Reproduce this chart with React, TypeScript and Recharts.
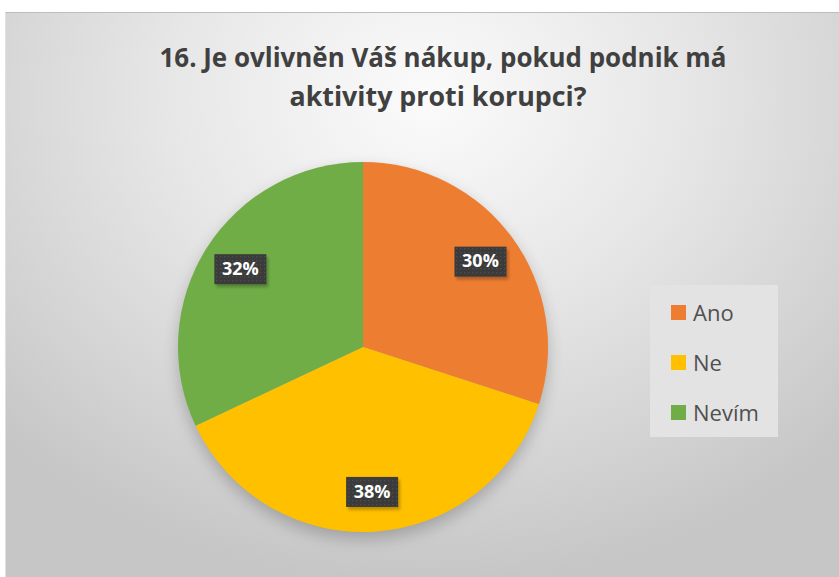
import React from 'react';
import { PieChart, Pie, Cell, Legend } from 'recharts';

const categories = ['Ano', 'Ne', 'Nevím'];
const values = [30, 38, 32];
const colors = ['#ED7D31', '#FFC000', '#70AD47'];
const titleLines = ['16. Je ovlivněn Váš nákup, pokud podnik má', 'aktivity proti korupci?'];

const data = categories.map((name, i) => ({ name, value: values[i] }));
const RAD = Math.PI / 180;

const renderLabel = (props: any) => {
  const { cx, cy, midAngle, outerRadius, percent } = props;
  const r = outerRadius * 0.785;
  const x = cx + r * Math.cos(-midAngle * RAD);
  const y = cy + r * Math.sin(-midAngle * RAD);
  const w = 52;
  const h = 30;
  return (
    <g>
      <rect x={x - w / 2 + 2} y={y - h / 2 + 3} width={w} height={h} fill="rgba(0,0,0,0.25)" filter="url(#blur2)" />
      <rect x={x - w / 2} y={y - h / 2} width={w} height={h} fill="#3b3b3b" />
      <rect x={x - w / 2} y={y - h / 2} width={w} height={h} fill="url(#dots)" />
      <text
        x={x}
        y={y + 1}
        textAnchor="middle"
        dominantBaseline="middle"
        fill="#ffffff"
        fontFamily="'Open Sans', 'DejaVu Sans', sans-serif"
        fontWeight={700}
        fontSize={18}
      >
        {`${Math.round(percent * 100)}%`}
      </text>
    </g>
  );
};

const renderLegend = () => (
  <div
    style={{
      width: 128,
      height: 152,
      background: '#e3e3e3',
      boxSizing: 'border-box',
      paddingTop: 2,
      fontFamily: "'Open Sans', 'DejaVu Sans', sans-serif",
    }}
  >
    {categories.map((c, i) => (
      <div key={c} style={{ display: 'flex', alignItems: 'center', height: 50, paddingLeft: 21 }}>
        <div style={{ width: 15, height: 15, background: colors[i], marginRight: 7 }} />
        <span style={{ fontSize: 22, color: '#505050' }}>{c}</span>
      </div>
    ))}
  </div>
);

export default function App() {
  return (
    <div style={{ position: 'fixed', left: 0, top: 0, width: 839, height: 577, background: '#ffffff', overflow: 'hidden' }}>
      <div
        style={{
          position: 'absolute',
          left: 5,
          top: 12,
          width: 840,
          height: 570,
          borderTop: '1px solid #bdbdbd',
          borderLeft: '1px solid #e0e0e0',
          background: 'radial-gradient(ellipse 70% 85% at 50% 15%, #fbfbfb 0%, #e6e6e6 45%, #d2d2d2 80%, #c6c6c6 100%)',
        }}
      />
      <svg width={839} height={577} style={{ position: 'absolute', left: 0, top: 0 }}>
        <text
          x={443}
          y={67}
          textAnchor="middle"
          fontFamily="'Open Sans', 'DejaVu Sans', sans-serif"
          fontWeight={700}
          fontSize={26}
          fill="#404040"
          textLength={567}
          lengthAdjust="spacingAndGlyphs"
        >
          {titleLines[0]}
        </text>
        <text
          x={438}
          y={106}
          textAnchor="middle"
          fontFamily="'Open Sans', 'DejaVu Sans', sans-serif"
          fontWeight={700}
          fontSize={26}
          fill="#404040"
          textLength={297}
          lengthAdjust="spacingAndGlyphs"
        >
          {titleLines[1]}
        </text>
        <defs>
          <filter id="pieShadow" x="-20%" y="-20%" width="140%" height="150%">
            <feGaussianBlur in="SourceAlpha" stdDeviation="8" />
            <feOffset dx="0" dy="7" result="b" />
            <feComponentTransfer>
              <feFuncA type="linear" slope="0.22" />
            </feComponentTransfer>
          </filter>
        </defs>
        <circle cx={363} cy={347} r={185} fill="#000" filter="url(#pieShadow)" />
      </svg>
      <div style={{ position: 'absolute', left: 0, top: 0 }}>
        <PieChart width={839} height={577} margin={{ top: 0, right: 0, bottom: 0, left: 0 }}>
          <defs>
            <pattern id="dots" width="4" height="4" patternUnits="userSpaceOnUse">
              <rect x="0" y="0" width="1.3" height="1.3" fill="#4d4d4d" />
            </pattern>
            <filter id="blur2">
              <feGaussianBlur stdDeviation="1.5" />
            </filter>
          </defs>
          <Pie
            data={data}
            dataKey="value"
            nameKey="name"
            cx={363}
            cy={347}
            outerRadius={185}
            startAngle={90}
            endAngle={-270}
            stroke="none"
            label={renderLabel}
            labelLine={false}
            isAnimationActive={false}
          >
            {data.map((d, i) => (
              <Cell key={d.name} fill={colors[i]} />
            ))}
          </Pie>
          <Legend
            layout="vertical"
            verticalAlign="middle"
            align="right"
            content={renderLegend}
            wrapperStyle={{ position: 'absolute', left: 650, top: 285, width: 128 }}
          />
        </PieChart>
      </div>
    </div>
  );
}
